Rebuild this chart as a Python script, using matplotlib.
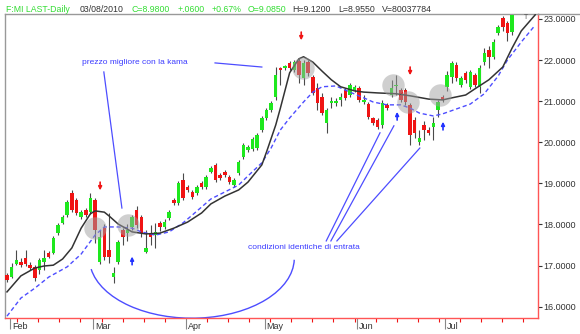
import matplotlib
matplotlib.use("Agg")
import matplotlib.pyplot as plt
import matplotlib.transforms as mtransforms
from matplotlib.patches import Arc
from matplotlib.lines import Line2D
import numpy as np

plt.rcParams['font.family'] = ['Liberation Sans', 'DejaVu Sans']

# candele giornaliere
opens = [16.77, 16.72, 17.04, 17.09, 17.18, 17.01, 16.97, 16.89, 17.09, 17.31,
         17.31, 17.79, 18.04, 18.23, 18.77, 18.60, 18.18, 18.35, 18.30, 18.60,
         17.09, 17.91, 17.38, 16.72, 17.09, 17.87, 17.79, 17.94, 18.35, 18.18,
         17.33, 17.79, 17.75, 18.04, 17.94, 18.16, 18.60, 18.52, 19.08, 18.91,
         18.79, 18.77, 19.01, 18.91, 19.28, 19.45, 19.20, 19.28, 19.16, 18.96,
         19.25, 19.64, 19.81, 19.84, 19.86, 20.30, 20.59, 20.79, 21.10, 21.81,
         21.81, 21.93, 21.76, 21.98, 21.56, 21.95, 21.59, 21.32, 21.10, 20.47,
         20.96, 20.96, 21.03, 21.27, 21.15, 21.27, 21.32, 20.98, 20.93, 20.59,
         20.54, 20.42, 20.91, 21.15, 21.37, 21.27, 21.27, 20.91, 20.54, 20.01,
         20.42, 20.30, 20.37, 20.79, 21.10, 21.35, 21.59, 21.88, 21.39, 21.69,
         21.35, 21.64, 21.35, 21.95, 22.25, 22.08, 22.66, 23.02, 22.90, 22.68]
highs = [16.82, 17.06, 17.38, 17.18, 17.38, 17.09, 17.01, 17.18, 17.38, 17.36,
         17.72, 18.04, 18.23, 18.60, 18.84, 18.64, 18.35, 18.40, 18.77, 18.64,
         17.87, 18.00, 18.28, 16.97, 17.62, 17.91, 18.00, 18.23, 18.45, 18.23,
         17.87, 17.99, 18.04, 18.09, 18.13, 18.35, 18.64, 19.06, 19.25, 18.96,
         18.84, 18.96, 19.06, 19.20, 19.42, 19.50, 19.25, 19.33, 19.20, 19.13,
         19.57, 19.98, 19.93, 20.13, 20.23, 20.64, 20.84, 21.01, 21.83, 21.83,
         21.88, 21.98, 22.00, 22.05, 22.00, 22.00, 21.64, 21.45, 21.20, 20.84,
         21.10, 21.08, 21.20, 21.32, 21.45, 21.40, 21.37, 21.15, 20.98, 20.62,
         20.59, 21.03, 20.96, 21.52, 21.64, 21.32, 21.32, 20.96, 20.62, 20.30,
         20.52, 20.37, 20.62, 21.03, 21.15, 21.74, 21.98, 21.95, 21.62, 21.74,
         21.76, 21.69, 21.88, 22.30, 22.35, 22.50, 22.86, 23.07, 22.95, 23.12]
lows = [16.60, 16.70, 17.01, 16.97, 16.99, 16.89, 16.62, 16.80, 16.89, 17.18,
        17.28, 17.75, 18.00, 18.18, 18.30, 18.23, 18.13, 18.18, 18.25, 17.55,
        17.04, 17.14, 17.06, 16.58, 17.04, 17.50, 17.60, 17.87, 17.91, 17.70,
        17.31, 17.50, 17.43, 17.85, 17.90, 18.11, 18.47, 18.47, 18.60, 18.79,
        18.62, 18.72, 18.86, 18.86, 19.25, 19.03, 19.08, 19.16, 18.99, 18.91,
        19.20, 19.59, 19.76, 19.79, 19.81, 20.25, 20.54, 20.74, 21.03, 21.39,
        21.76, 21.76, 21.70, 21.45, 21.40, 21.60, 21.15, 20.79, 20.66, 20.23,
        20.83, 20.88, 20.88, 21.03, 21.10, 21.22, 20.98, 20.93, 20.57, 20.42,
        20.32, 20.35, 20.79, 21.10, 21.15, 20.98, 20.91, 19.93, 20.10, 19.93,
        20.05, 20.18, 20.05, 20.62, 20.98, 21.25, 21.45, 21.50, 21.35, 21.45,
        21.30, 21.35, 21.20, 21.88, 21.81, 22.03, 22.60, 22.70, 22.47, 22.62]
closes = [16.65, 16.97, 17.14, 17.01, 17.04, 16.94, 16.70, 17.14, 17.18, 17.21,
          17.67, 17.99, 18.18, 18.55, 18.35, 18.28, 18.30, 18.23, 18.64, 17.87,
          17.70, 17.21, 17.21, 16.82, 17.57, 17.70, 17.87, 18.18, 17.99, 17.79,
          17.43, 17.70, 17.82, 17.94, 18.06, 18.30, 18.52, 19.01, 18.64, 18.84,
          18.67, 18.91, 18.91, 19.16, 19.37, 19.08, 19.13, 19.20, 19.03, 19.08,
          19.52, 19.93, 19.89, 20.08, 20.18, 20.59, 20.79, 20.96, 21.64, 21.76,
          21.83, 21.81, 21.95, 21.64, 21.93, 21.69, 21.20, 20.96, 20.71, 20.79,
          20.98, 21.00, 21.10, 21.08, 21.39, 21.35, 21.03, 21.03, 20.62, 20.47,
          20.37, 20.96, 20.83, 21.32, 21.39, 21.03, 20.98, 20.18, 20.23, 20.10,
          20.30, 20.23, 20.47, 20.98, 21.03, 21.64, 21.93, 21.56, 21.56, 21.52,
          21.71, 21.39, 21.81, 22.17, 22.08, 22.44, 22.81, 22.81, 22.66, 23.10]

# media adattiva kama (linea nera) e media tratteggiata (blu)
kama_idx = [0, 3, 6, 8, 10, 12, 14, 16, 18, 19, 21, 22, 24, 27, 30, 33, 36, 39,
            42, 44, 47, 50, 52, 55, 56, 58, 59, 61, 63, 64, 66, 68, 70, 72, 75,
            77, 80, 84, 87, 91, 94, 96, 99, 101, 104, 107, 109, 111, 114]
kama_val = [16.36, 16.75, 16.94, 16.99, 17.01, 17.16, 17.43, 17.91, 18.26, 18.33,
            18.30, 18.21, 18.01, 17.82, 17.77, 17.79, 17.91, 18.06, 18.28, 18.50,
            18.69, 18.84, 19.03, 19.45, 19.76, 20.42, 20.83, 21.69, 22.03, 22.08,
            21.95, 21.73, 21.52, 21.35, 21.25, 21.22, 21.20, 21.18, 21.13, 21.05,
            21.03, 21.08, 21.15, 21.30, 21.52, 21.83, 22.29, 22.71, 23.10]
ma_idx = [0, 3, 6, 9, 13, 16, 19, 21, 24, 27, 29, 32, 35, 38, 40, 44, 47, 50,
          52, 55, 57, 59, 61, 64, 66, 68, 71, 74, 77, 79, 82, 85, 87, 89, 92,
          94, 97, 100, 103, 106, 108, 111, 114]
ma_val = [15.77, 16.21, 16.45, 16.72, 16.97, 17.28, 17.74, 17.94, 17.94, 17.91,
          17.82, 17.74, 17.82, 18.04, 18.23, 18.62, 18.79, 18.96, 19.18, 19.50,
          19.86, 20.30, 20.59, 20.98, 21.22, 21.35, 21.37, 21.22, 21.08, 20.98,
          20.91, 20.91, 20.83, 20.71, 20.64, 20.69, 20.81, 20.93, 21.18, 21.61,
          22.00, 22.44, 22.85]

# segnali
sell_idx = [20.1, 63.5, 87.0]
sell_price = [18.91, 22.56, 21.71]
buy_idx = [27.0, 84.2, 94.1]
buy_price = [17.14, 20.66, 20.42]
circle_idx = [19.0, 26.1, 63.9, 83.3, 86.6, 93.5]
circle_price = [17.91, 17.99, 21.81, 21.39, 20.98, 21.15]

month_labels = ['Feb', 'Mar', 'Apr', 'May', 'Jun', 'Jul']
month_first = [1, 19, 39, 56, 76, 95]
price_ticks = [16, 17, 18, 19, 20, 21, 22, 23]

GREEN = '#1ee81e'
RED = '#f01414'
BLUE = '#4d4dff'

fig = plt.figure(figsize=(5.8, 3.34), dpi=100)
ax = fig.add_axes([5 / 580, 1 - 318 / 334, 533 / 580, 304 / 334])

o = np.array(opens)
h = np.array(highs)
l = np.array(lows)
c = np.array(closes)
idx = np.arange(len(c))
up = c >= o
cols = np.where(up, GREEN, RED)
body = np.maximum(np.abs(c - o), 0.035)

ax.vlines(idx, l, h, color='#4a4a4a', lw=0.8, zorder=2)
ax.bar(idx, body, bottom=np.minimum(o, c), width=0.75, color=cols,
       linewidth=0, zorder=3)

ax.plot(ma_idx, ma_val, color=BLUE, lw=1.0, ls=(0, (3, 2)), zorder=4)
ax.plot(kama_idx, kama_val, color='#333333', lw=1.1, zorder=4)

ax.scatter(circle_idx, circle_price, s=260, color='#a0a0a0', alpha=0.5,
           linewidths=0, zorder=5)

for xi, yi in zip(sell_idx, sell_price):
    ax.annotate('', xy=(xi, yi - 0.08), xytext=(xi, yi + 0.12),
                arrowprops=dict(arrowstyle='-|>', color=RED, lw=1.2,
                                mutation_scale=5, shrinkA=0, shrinkB=0),
                zorder=6)
for xi, yi in zip(buy_idx, buy_price):
    ax.annotate('', xy=(xi, yi + 0.08), xytext=(xi, yi - 0.12),
                arrowprops=dict(arrowstyle='-|>', color='#2233ff', lw=1.2,
                                mutation_scale=5, shrinkA=0, shrinkB=0),
                zorder=6)

# note
ax.text(16.2, 21.93, 'prezzo migliore con la kama', color='#3b3bff',
        fontsize=6, va='center', ha='left')
ax.text(52.0, 17.45, 'condizioni identiche di entrata', color='#3b3bff',
        fontsize=6, va='center', ha='left')
ax.plot([20.9, 24.8], [21.71, 18.40], color=BLUE, lw=0.9)
ax.plot([44.9, 55.0], [21.93, 21.83], color=BLUE, lw=0.9)
ax.plot([68.9, 80.5], [17.60, 20.23], color=BLUE, lw=0.9)
ax.plot([69.9, 83.5], [17.60, 20.40], color=BLUE, lw=0.9)
ax.plot([71.2, 89.1], [17.60, 19.86], color=BLUE, lw=0.9)
# arco sotto i minimi di marzo (angoli geometrici nello spazio dati)
ax.add_patch(Arc((39.9, 17.18), 44.2, 2.92, theta1=180.7, theta2=359.9,
                 color=BLUE, lw=1.0))
ax.text(112, 23.03, 'T', color='#555555', fontsize=5, ha='center', va='center')

ax.set_xlim(-0.43, 114.6)
ax.set_ylim(15.725, 23.12)

# assi
ax.yaxis.tick_right()
ax.set_yticks(price_ticks)
ax.set_yticklabels([f'{v:.4f}' for v in price_ticks])
ax.tick_params(axis='y', colors='#333333', labelsize=6.5, length=3,
               width=0.8, pad=1, direction='out')
for t in ax.yaxis.get_ticklines():
    t.set_color(RED)

ax.set_xticks([m - 0.4 for m in month_first])
ax.set_xticklabels(month_labels)
ax.set_xticks(np.arange(2.2, 114, 4.55), minor=True)
ax.tick_params(axis='x', which='major', length=8, width=0.8, color='#888888',
               labelsize=6.5, labelcolor='#333333', pad=-5)
ax.tick_params(axis='x', which='minor', length=3, width=0.8, color=RED)
offset = mtransforms.ScaledTranslation(2 / 100, 0, fig.dpi_scale_trans)
for t in ax.get_xticklabels():
    t.set_ha('left')
    t.set_transform(t.get_transform() + offset)

for side in ['left', 'top']:
    ax.spines[side].set_color('#999999')
for side in ['right', 'bottom']:
    ax.spines[side].set_color('#ff5555')
for s in ax.spines.values():
    s.set_linewidth(1)

fig.add_artist(Line2D([538 / 580, 1], [1 - 14 / 334] * 2, color='#999999', lw=1))

# intestazione
head = [(6, 'F:MI LAST-Daily', '#33dd33'), (80, '03/08/2010', '#333333'),
        (132, 'C=8.9800', '#33dd33'), (178, '+.0600', '#33dd33'),
        (212, '+0.67%', '#33dd33'), (248, 'O=9.0850', '#33dd33'),
        (292, 'H=9.1200', '#333333'), (338, 'L=8.9550', '#333333'),
        (382, 'V=80037784', '#333333')]
for px, txt, col in head:
    fig.text(px / 580, 1 - 9 / 334, txt, color=col, fontsize=6.3,
             ha='left', va='center')

fig.savefig('out.png', dpi=100)
